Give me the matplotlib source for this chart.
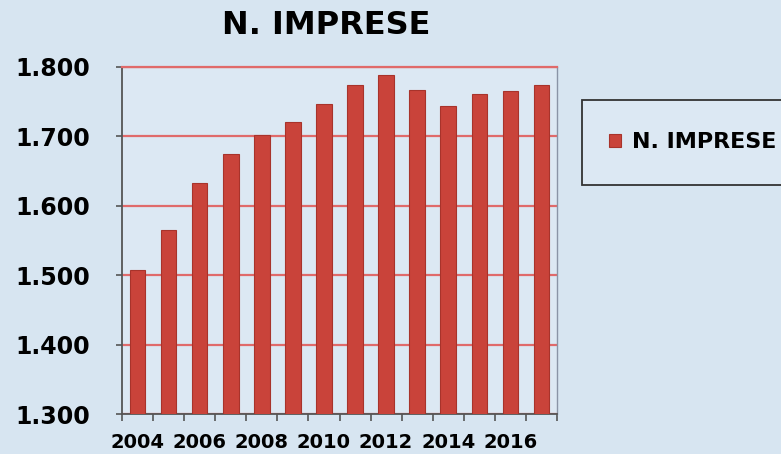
import matplotlib
matplotlib.use("Agg")
import matplotlib.pyplot as plt
from matplotlib.patches import Rectangle
from matplotlib.ticker import FuncFormatter, FixedLocator

years = [2004, 2005, 2006, 2007, 2008, 2009, 2010, 2011, 2012, 2013, 2014, 2015, 2016, 2017]
imprese = [1507, 1565, 1633, 1675, 1702, 1721, 1747, 1774, 1788, 1767, 1744, 1761, 1766, 1774]
series_name = "N. IMPRESE"
title = "N. IMPRESE"

W, H = 781, 454
fig = plt.figure(figsize=(W / 100, H / 100), dpi=100)
fig.patch.set_facecolor("#d7e5f1")

ax = fig.add_axes([122 / W, 1 - 414 / H, (557 - 122) / W, (414 - 67) / H])
ax.set_facecolor("#dce8f3")

x = list(range(len(years)))
ax.bar(x, imprese, width=0.5, color="#c9433a", edgecolor="#a8332b", linewidth=0.8,
       label=series_name, zorder=3)

ax.set_ylim(1300, 1800)
ax.set_xlim(-0.5, len(years) - 0.5)
ax.set_yticks([1300, 1400, 1500, 1600, 1700, 1800])
ax.yaxis.set_major_formatter(FuncFormatter(lambda v, p: f"{int(v):,}".replace(",", ".")))
ax.yaxis.grid(True, color="#e06a6a", linewidth=1.6, zorder=1)
ax.set_axisbelow(True)

ax.set_xticks(x[::2])
ax.set_xticklabels([str(y) for y in years[::2]])
ax.xaxis.set_minor_locator(FixedLocator([i - 0.5 for i in range(len(years) + 1)]))
ax.tick_params(axis="x", which="major", length=0, pad=14)
ax.tick_params(axis="x", which="minor", length=5, width=1.2, color="#555555", direction="out")
ax.tick_params(axis="y", length=4, width=1.2, color="#555555", pad=19)

for lab in ax.get_xticklabels():
    lab.set_fontsize(14)
    lab.set_fontweight("heavy")
for lab in ax.get_yticklabels():
    lab.set_fontsize(17)
    lab.set_fontweight("heavy")

ax.spines["left"].set_color("#555555")
ax.spines["left"].set_linewidth(1.3)
ax.spines["bottom"].set_color("#555555")
ax.spines["bottom"].set_linewidth(1.3)
ax.spines["right"].set_color("#8a94a6")
ax.spines["right"].set_linewidth(1.0)
ax.spines["top"].set_color("#e06a6a")
ax.spines["top"].set_linewidth(1.6)

fig.text(326 / W, 1 - 26 / H, title, ha="center", va="center", fontsize=23, fontweight="heavy")

# legend frame (extends past the right edge, as in the reference)
fig.patches.append(Rectangle((582 / W, 1 - 185 / H), 240 / W, 85 / H,
                             transform=fig.transFigure, facecolor="#dce8f3",
                             edgecolor="#333333", linewidth=1.3, zorder=1))
leg = fig.legend(loc="center left", bbox_to_anchor=(582 / W, 1 - 142.5 / H),
                 frameon=False, borderpad=1.2, handlelength=0.55,
                 handleheight=0.55, handletextpad=0.5, borderaxespad=0,
                 prop={"size": 16, "weight": "heavy"})
leg.set_zorder(2)

fig.savefig("out.png", dpi=100, facecolor=fig.get_facecolor())
